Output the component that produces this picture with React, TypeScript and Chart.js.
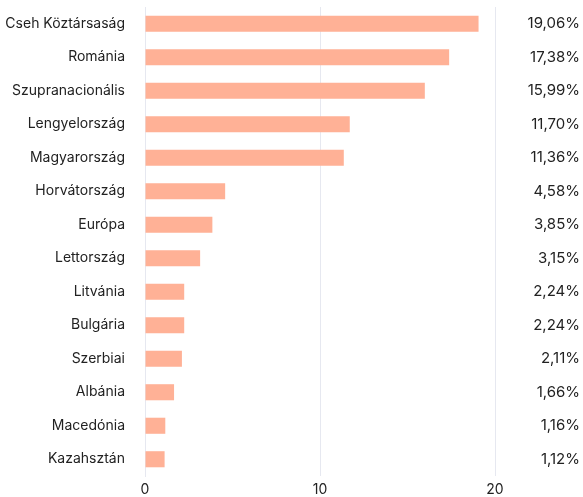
import React, { useEffect, useRef } from "react";
import { Chart, registerables } from "chart.js";

Chart.register(...registerables);

const categories = [
  "Cseh Köztársaság",
  "Románia",
  "Szupranacionális",
  "Lengyelország",
  "Magyarország",
  "Horvátország",
  "Európa",
  "Lettország",
  "Litvánia",
  "Bulgária",
  "Szerbiai",
  "Albánia",
  "Macedónia",
  "Kazahsztán",
];
const values = [19.06, 17.38, 15.99, 11.7, 11.36, 4.58, 3.85, 3.15, 2.24, 2.24, 2.11, 1.66, 1.16, 1.12];
const valueLabels = [
  "19,06%",
  "17,38%",
  "15,99%",
  "11,70%",
  "11,36%",
  "4,58%",
  "3,85%",
  "3,15%",
  "2,24%",
  "2,24%",
  "2,11%",
  "1,66%",
  "1,16%",
  "1,12%",
];
const xTicks = [0, 10, 20];

export default function App() {
  const ref = useRef<HTMLCanvasElement | null>(null);
  useEffect(() => {
    if (!ref.current) return;
    const font = { family: "Inter", size: 14 };
    const zeroPad = (axis: any) => {
      axis.paddingTop = 0;
      axis.paddingBottom = 0;
    };
    const chart = new Chart(ref.current, {
      type: "bar",
      data: {
        labels: categories,
        datasets: [
          {
            data: values,
            backgroundColor: "#FFB196",
            barPercentage: 0.48,
            categoryPercentage: 1,
            yAxisID: "y",
          },
        ],
      },
      options: {
        indexAxis: "y",
        animation: false,
        responsive: true,
        maintainAspectRatio: false,
        layout: { padding: { top: 7, right: 3, bottom: 0, left: 0 } },
        plugins: { legend: { display: false }, tooltip: { enabled: false } },
        scales: {
          x: {
            min: 0,
            max: 20,
            afterBuildTicks: (axis: any) => {
              axis.ticks = xTicks.map((v) => ({ value: v }));
            },
            afterFit: (axis: any) => {
              axis.height = 21;
            },
            grid: { color: "#E6E8F0", drawTicks: false },
            border: { display: false },
            ticks: { color: "#222", font, padding: 5 },
          },
          y: {
            position: "left",
            grid: { display: false },
            border: { color: "#E6E8F0" },
            ticks: { color: "#222", font, padding: 12 },
            afterFit: zeroPad,
          },
          y2: {
            type: "category",
            position: "right",
            labels: valueLabels,
            offset: true,
            grid: { display: false, drawTicks: false },
            border: { display: false },
            ticks: { color: "#222", font: { family: "Inter", size: 15 }, crossAlign: "far", padding: 0 },
            afterFit: (axis: any) => {
              zeroPad(axis);
              axis.width = 85;
            },
          },
        },
      },
    });
    return () => chart.destroy();
  }, []);
  return (
    <div style={{ position: "fixed", left: 0, top: 0, width: 583, height: 497 }}>
      <canvas ref={ref} />
    </div>
  );
}
